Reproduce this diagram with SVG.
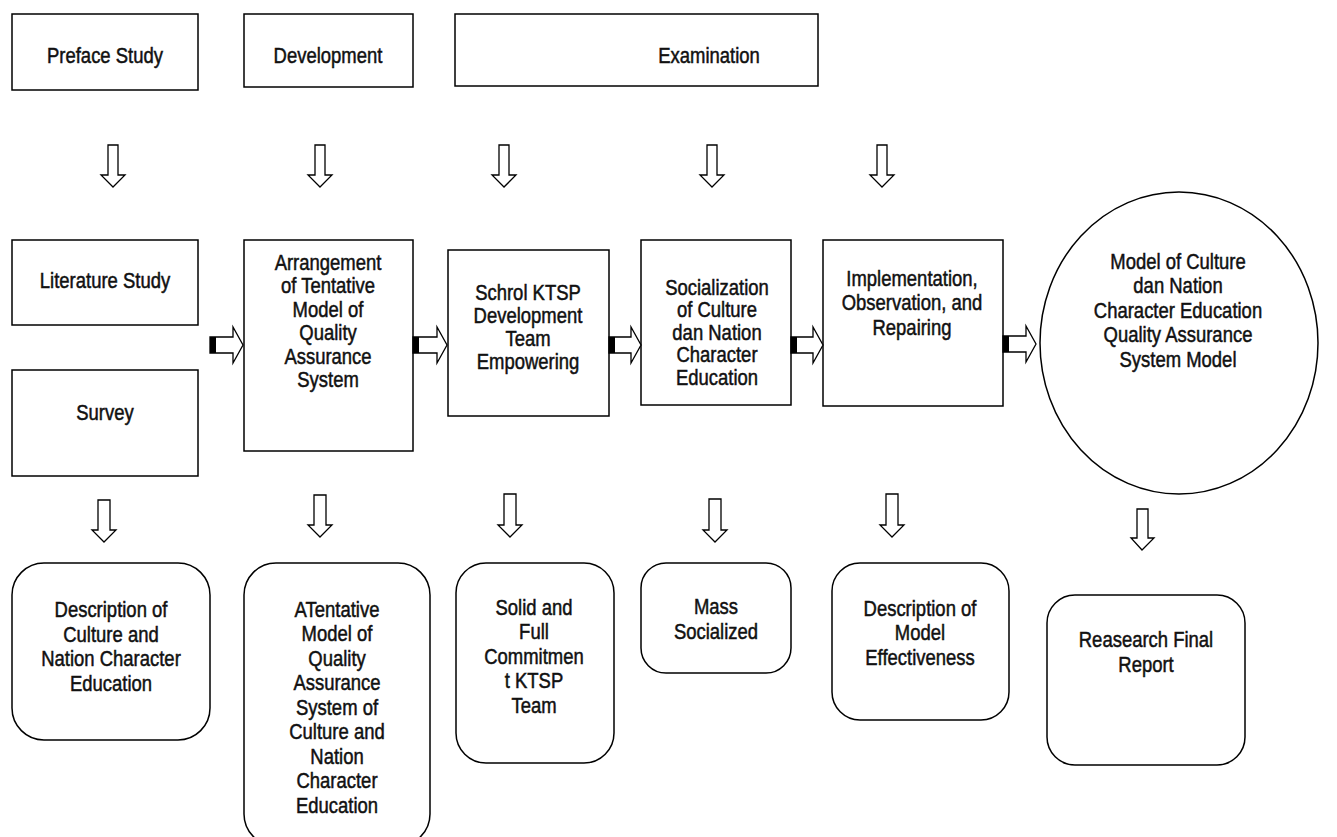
<svg xmlns="http://www.w3.org/2000/svg" width="1337" height="837" viewBox="0 0 1337 837">
<style>
.box{fill:#fff;stroke:#000;stroke-width:1.5}
.t{font-family:"Liberation Sans",Arial,sans-serif;font-size:22px;text-anchor:middle;fill:#111;stroke:#111;stroke-width:0.5}
.arr{fill:#fff;stroke:#000;stroke-width:1.3;stroke-linejoin:miter}
.blk{fill:#000}
</style>
<rect width="1337" height="837" fill="#fff"/>
<g id="preface"><rect class="box" x="12" y="14" width="186" height="76"/>
<text class="t" transform="matrix(0.84 0 0 1 105 0)"><tspan x="0" y="63">Preface Study</tspan></text></g>
<g id="development"><rect class="box" x="244" y="14" width="169" height="73"/>
<text class="t" transform="matrix(0.84 0 0 1 328 0)"><tspan x="0" y="63">Development</tspan></text></g>
<g id="examination"><rect class="box" x="455" y="14" width="363" height="72"/>
<text class="t" transform="matrix(0.84 0 0 1 709 0)"><tspan x="0" y="63">Examination</tspan></text></g>
<g id="literature"><rect class="box" x="12" y="240" width="186" height="85"/>
<text class="t" transform="matrix(0.84 0 0 1 105 0)"><tspan x="0" y="288">Literature Study</tspan></text></g>
<g id="survey"><rect class="box" x="12" y="370" width="186" height="106"/>
<text class="t" transform="matrix(0.84 0 0 1 105 0)"><tspan x="0" y="420">Survey</tspan></text></g>
<g id="arrangement"><rect class="box" x="244" y="240" width="169" height="211"/>
<text class="t" transform="matrix(0.84 0 0 1 328 0)"><tspan x="0" y="270">Arrangement</tspan><tspan x="0" y="293.4">of Tentative</tspan><tspan x="0" y="316.8">Model of</tspan><tspan x="0" y="340.2">Quality</tspan><tspan x="0" y="363.6">Assurance</tspan><tspan x="0" y="387">System</tspan></text></g>
<g id="schrol"><rect class="box" x="448" y="250" width="161" height="166"/>
<text class="t" transform="matrix(0.84 0 0 1 528 0)"><tspan x="0" y="300">Schrol KTSP</tspan><tspan x="0" y="323">Development</tspan><tspan x="0" y="346">Team</tspan><tspan x="0" y="369">Empowering</tspan></text></g>
<g id="socialization"><rect class="box" x="641" y="240" width="150" height="165"/>
<text class="t" transform="matrix(0.84 0 0 1 717 0)"><tspan x="0" y="295">Socialization</tspan><tspan x="0" y="317.5">of Culture</tspan><tspan x="0" y="340">dan Nation</tspan><tspan x="0" y="362.5">Character</tspan><tspan x="0" y="385">Education</tspan></text></g>
<g id="implementation"><rect class="box" x="823" y="240" width="180" height="166"/>
<text class="t" transform="matrix(0.84 0 0 1 912 0)"><tspan x="0" y="286">Implementation,</tspan><tspan x="0" y="310.5">Observation, and</tspan><tspan x="0" y="335">Repairing</tspan></text></g>
<g id="model"><ellipse class="box" cx="1179" cy="343" rx="139" ry="151"/>
<text class="t" transform="matrix(0.84 0 0 1 1178 0)"><tspan x="0" y="269">Model of Culture</tspan><tspan x="0" y="293.5">dan Nation</tspan><tspan x="0" y="318">Character Education</tspan><tspan x="0" y="342.5">Quality Assurance</tspan><tspan x="0" y="367">System Model</tspan></text></g>
<g id="desc-culture"><rect class="box" x="12" y="563" width="198" height="177" rx="32"/>
<text class="t" transform="matrix(0.84 0 0 1 111 0)"><tspan x="0" y="617">Description of</tspan><tspan x="0" y="641.7">Culture and</tspan><tspan x="0" y="666.4">Nation Character</tspan><tspan x="0" y="691">Education</tspan></text></g>
<g id="tentative"><rect class="box" x="244" y="563" width="186" height="283" rx="32"/>
<text class="t" transform="matrix(0.84 0 0 1 337 0)"><tspan x="0" y="617">ATentative</tspan><tspan x="0" y="641.5">Model of</tspan><tspan x="0" y="666">Quality</tspan><tspan x="0" y="690.5">Assurance</tspan><tspan x="0" y="715">System of</tspan><tspan x="0" y="739.5">Culture and</tspan><tspan x="0" y="764">Nation</tspan><tspan x="0" y="788.5">Character</tspan><tspan x="0" y="813">Education</tspan></text></g>
<g id="solid"><rect class="box" x="456" y="563" width="158" height="200" rx="30"/>
<text class="t" transform="matrix(0.84 0 0 1 534 0)"><tspan x="0" y="615">Solid and</tspan><tspan x="0" y="639.5">Full</tspan><tspan x="0" y="664">Commitmen</tspan><tspan x="0" y="688.5">t KTSP</tspan><tspan x="0" y="713">Team</tspan></text></g>
<g id="mass"><rect class="box" x="641" y="563" width="150" height="110" rx="25"/>
<text class="t" transform="matrix(0.84 0 0 1 716 0)"><tspan x="0" y="614">Mass</tspan><tspan x="0" y="639">Socialized</tspan></text></g>
<g id="desc-model"><rect class="box" x="832" y="563" width="177" height="157" rx="28"/>
<text class="t" transform="matrix(0.84 0 0 1 920 0)"><tspan x="0" y="616">Description of</tspan><tspan x="0" y="640.5">Model</tspan><tspan x="0" y="665">Effectiveness</tspan></text></g>
<g id="report"><rect class="box" x="1047" y="595" width="198" height="170" rx="28"/>
<text class="t" transform="matrix(0.84 0 0 1 1146 0)"><tspan x="0" y="647">Reasearch Final</tspan><tspan x="0" y="672">Report</tspan></text></g>
<g id="connectors">
<path class="arr" d="M108,145V175H101L113,187L125,175H118V145Z"/>
<path class="arr" d="M315,145V175H308L320,187L332,175H325V145Z"/>
<path class="arr" d="M499,145V175H492L504,187L516,175H509V145Z"/>
<path class="arr" d="M707,145V175H700L712,187L724,175H717V145Z"/>
<path class="arr" d="M877,145V175H870L882,187L894,175H887V145Z"/>
<path class="arr" d="M98,500V530H92L104,542L116,530H110V500Z"/>
<path class="arr" d="M314,495V525H308L320,537L332,525H326V495Z"/>
<path class="arr" d="M504,494V525H498L510,537L522,525H516V494Z"/>
<path class="arr" d="M709,499V530H703L715,542L727,530H721V499Z"/>
<path class="arr" d="M886,494V525H880L892,537L904,525H898V494Z"/>
<path class="arr" d="M1137,509V538H1131L1142,550L1154,538H1148V509Z"/>
<path class="arr" d="M210,337H233V327L243,345L233,363V353H210Z"/><rect class="blk" x="210" y="337" width="6" height="16"/>
<path class="arr" d="M413,337H437V327L447,345L437,363V353H413Z"/><rect class="blk" x="413" y="337" width="6" height="16"/>
<path class="arr" d="M609,337H631V327L641,345L631,363V353H609Z"/><rect class="blk" x="609" y="337" width="6" height="16"/>
<path class="arr" d="M791,337H813V327L823,345L813,363V353H791Z"/><rect class="blk" x="791" y="337" width="6" height="16"/>
<path class="arr" d="M1003,336H1026V326L1036,344L1026,362V352H1003Z"/><rect class="blk" x="1003" y="336" width="6" height="16"/>
</g>
</svg>
